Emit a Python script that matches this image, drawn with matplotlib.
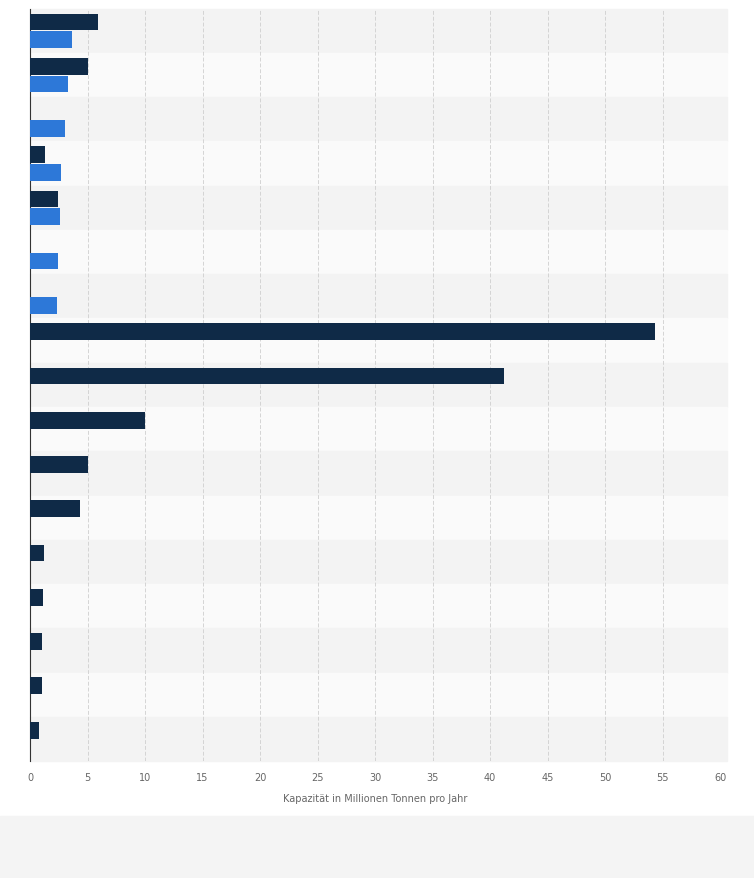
import numpy as np
import matplotlib.pyplot as plt

# values (million tonnes per year); None = no bar
series_dark = [5.9, 5.0, None, 1.3, 2.4, None, None, 54.3, 41.2, 10.0, 5.0, 4.3, 1.2, 1.1, 1.0, 1.0, 0.8]
series_blue = [3.6, 3.3, 3.0, 2.7, 2.6, 2.4, 2.3, None, None, None, None, None, None, None, None, None, None]
x_ticks = list(range(0, 61, 5))

n = len(series_dark)
fig = plt.figure(figsize=(7.54, 8.79), dpi=100)
fig.patch.set_facecolor('white')
fig.patches.append(plt.Rectangle((0, 0), 1, 0.07, transform=fig.transFigure,
                                 color='#f4f4f4', zorder=-1))
ax = fig.add_axes([0.04, 0.133, 0.915, 0.856])

for i in range(n):
    ax.axhspan(i - 0.5, i + 0.5, xmax=727 / 720, clip_on=False,
               color='#f3f3f3' if i % 2 == 0 else '#fafafa', zorder=0)

y = np.arange(n)
for i in range(n):
    if series_dark[i] is not None:
        ax.barh(y[i] - 0.2, series_dark[i], height=0.38, color='#0f2a47', zorder=3)
    if series_blue[i] is not None:
        ax.barh(y[i] + 0.2, series_blue[i], height=0.38, color='#2d78d8', zorder=3)

ax.set_ylim(n - 0.5, -0.5)
ax.set_xlim(0, 60)
ax.set_xticks(x_ticks)
ax.set_yticks([])
ax.tick_params(axis='x', labelsize=7, colors='#666666', length=0, pad=8)
ax.grid(axis='x', color='#d4d4d4', linestyle=(0, (4, 2)), linewidth=0.7, zorder=1)
for s in ['top', 'right', 'bottom']:
    ax.spines[s].set_visible(False)
ax.spines['left'].set_color('#333333')
ax.set_xlabel('Kapazität in Millionen Tonnen pro Jahr', fontsize=7, color='#666666', labelpad=8)

fig.savefig('out.png')
